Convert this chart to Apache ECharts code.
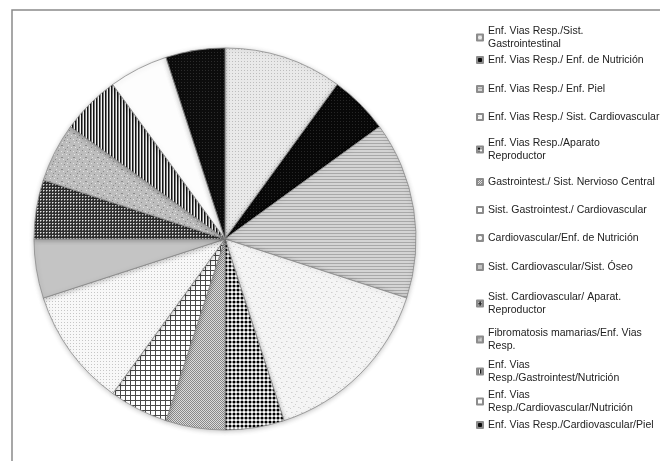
<!DOCTYPE html>
<html>
<head>
<meta charset="utf-8">
<script src="https://cdn.jsdelivr.net/npm/echarts@6/dist/echarts.min.js"></script>
<style>
html,body{margin:0;padding:0;background:#fff;}
#chart{width:660px;height:461px;}
</style>
</head>
<body>
<div id="chart"></div>
<script>
// ---- data ----
const categories = [
  'Enf. Vias Resp./Sist.\nGastrointestinal',
  'Enf. Vias Resp./ Enf. de Nutrición',
  'Enf. Vias Resp./ Enf. Piel',
  'Enf. Vias Resp./ Sist. Cardiovascular',
  'Enf. Vias Resp./Aparato\nReproductor',
  'Gastrointest./ Sist. Nervioso Central',
  'Sist. Gastrointest./ Cardiovascular',
  'Cardiovascular/Enf. de Nutrición',
  'Sist. Cardiovascular/Sist. Óseo',
  'Sist. Cardiovascular/ Aparat.\nReproductor',
  'Fibromatosis mamarias/Enf. Vias\nResp.',
  'Enf. Vias\nResp./Gastrointest/Nutrición',
  'Enf. Vias\nResp./Cardiovascular/Nutrición',
  'Enf. Vias Resp./Cardiovascular/Piel'
];
const values = [2, 1, 3, 3, 1, 1, 1, 2, 1, 1, 1, 1, 1, 1];

// ---- layout / style ----
const legendLineY = [31, 60, 89, 117, 143, 182, 210, 238, 267, 297, 333, 365, 395, 425];

function pat(w, h, draw) {
  const c = document.createElement('canvas');
  c.width = w; c.height = h;
  const g = c.getContext('2d');
  draw(g);
  return { image: c, repeat: 'repeat' };
}
function px(g, col, pts) { g.fillStyle = col; pts.forEach(p => g.fillRect(p[0], p[1], 1, 1)); }

const patterns = [
  pat(3, 3, g => { g.fillStyle = '#e9e9e9'; g.fillRect(0,0,3,3); px(g, '#bdbdbd', [[1,1]]); }),
  pat(3, 3, g => { g.fillStyle = '#080808'; g.fillRect(0,0,3,3); px(g, '#262626', [[1,1]]); }),
  pat(3, 3, g => { g.fillStyle = '#d4d4d4'; g.fillRect(0,0,3,3); g.fillStyle = '#a8a8a8'; g.fillRect(0,2,3,1); }),
  pat(10, 10, g => { g.fillStyle = '#f5f5f5'; g.fillRect(0,0,10,10); px(g, '#d0d0d0', [[1,2],[6,1],[3,6],[8,7],[5,4],[0,8]]); px(g,'#e2e2e2',[[2,2],[7,1],[4,6],[9,7]]); }),
  pat(4, 4, g => { g.fillStyle = '#ffffff'; g.fillRect(0,0,4,4); g.fillStyle = '#000'; g.beginPath(); g.arc(2,2,1.55,0,Math.PI*2); g.fill(); }),
  pat(2, 2, g => { g.fillStyle = '#dcdcdc'; g.fillRect(0,0,2,2); px(g, '#8a8a8a', [[0,0],[1,1]]); }),
  pat(5, 5, g => { g.fillStyle = '#ffffff'; g.fillRect(0,0,5,5); g.fillStyle = '#4a4a4a'; g.fillRect(0,0,5,1); g.fillRect(0,0,1,5); }),
  pat(3, 3, g => { g.fillStyle = '#f8f8f8'; g.fillRect(0,0,3,3); px(g, '#c6c6c6', [[1,1]]); }),
  '#c4c4c4',
  pat(3, 3, g => { g.fillStyle = '#2f2f2f'; g.fillRect(0,0,3,3); px(g, '#e6e6e6', [[1,1]]); px(g, '#8a8a8a', [[2,1],[1,2]]); }),
  pat(12, 12, g => { g.fillStyle = '#bdbdbd'; g.fillRect(0,0,12,12); px(g, '#8c8c8c', [[1,1],[2,1],[7,3],[4,8],[10,6],[9,10],[5,5]]); px(g, '#e4e4e4', [[3,3],[8,1],[1,7],[6,10],[11,3],[7,7],[2,10]]); }),
  pat(3, 1, g => { g.fillStyle = '#141414'; g.fillRect(0,0,1,1); g.fillStyle = '#7a7a7a'; g.fillRect(1,0,1,1); g.fillStyle = '#f4f4f4'; g.fillRect(2,0,1,1); }),
  '#fdfdfd',
  pat(3, 3, g => { g.fillStyle = '#0c0c0c'; g.fillRect(0,0,3,3); px(g, '#2c2c2c', [[1,1]]); })
];

const data = categories.map((n, i) => ({ name: n, value: values[i], itemStyle: { color: patterns[i] } }));

const legends = categories.map((n, i) => ({
  orient: 'vertical',
  left: 476,
  top: legendLineY[i] - 6.5,
  padding: 0,
  itemGap: 0,
  itemWidth: 6,
  itemHeight: 6,
  icon: 'rect',
  selectedMode: false,
  data: [n],
  textStyle: { fontFamily: 'Liberation Sans', fontSize: 10.5, color: '#222', lineHeight: 13 }
}));

const chart = echarts.init(document.getElementById('chart'), null, { renderer: 'canvas' });
chart.setOption({
  backgroundColor: '#ffffff',
  animation: false,
  legend: legends,
  graphic: [{
    type: 'rect', silent: true,
    shape: { x: 12, y: 10, width: 720, height: 520 },
    style: { fill: 'none', stroke: '#8a8a8a', lineWidth: 1.5 }
  }],
  series: [{
    type: 'pie',
    center: [225, 239],
    radius: 191,
    startAngle: 90,
    clockwise: true,
    avoidLabelOverlap: false,
    label: { show: false },
    labelLine: { show: false },
    emphasis: { disabled: true },
    itemStyle: {
      borderColor: '#8c8c8c',
      borderWidth: 0.8,
      shadowBlur: 5,
      shadowColor: 'rgba(0,0,0,0.22)',
      shadowOffsetY: 1
    },
    data: data
  }]
});
</script>
</body>
</html>
